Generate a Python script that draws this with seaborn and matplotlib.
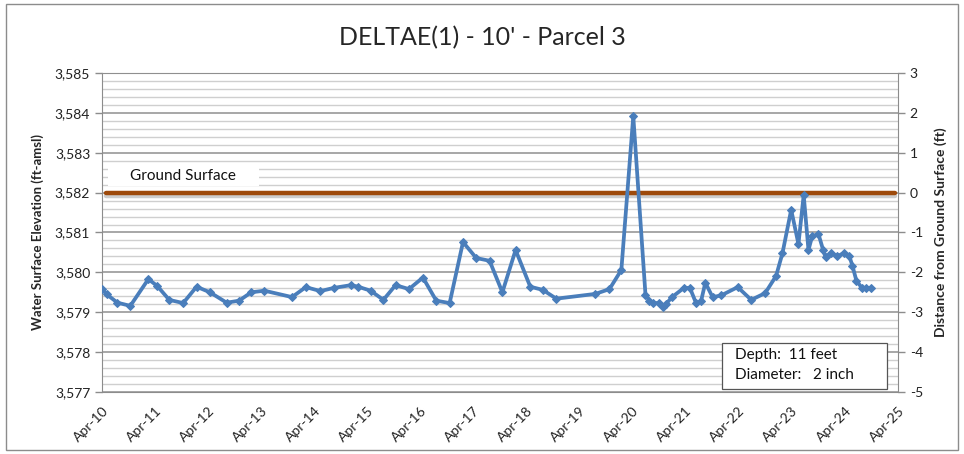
import pandas as pd
import matplotlib.pyplot as plt
import matplotlib.dates as mdates
import matplotlib.patheffects as pe
from matplotlib.ticker import MultipleLocator, FuncFormatter
from matplotlib.patches import Rectangle
import seaborn as sns

dates = ["2010-04-03", "2010-05-03", "2010-07-16", "2010-10-13", "2011-02-14", "2011-04-16",
         "2011-07-08", "2011-10-12", "2012-01-12", "2012-04-13", "2012-08-06", "2012-10-31",
         "2013-01-22", "2013-04-23", "2013-10-30", "2014-02-02", "2014-05-14", "2014-08-13",
         "2014-12-11", "2015-01-28", "2015-04-24", "2015-07-21", "2015-10-13", "2016-01-13",
         "2016-04-18", "2016-07-19", "2016-10-19", "2017-01-19", "2017-04-20", "2017-07-21",
         "2017-10-17", "2018-01-16", "2018-04-27", "2018-07-23", "2018-10-23", "2019-07-19",
         "2019-10-24", "2020-01-14", "2020-04-05", "2020-06-28", "2020-07-25", "2020-08-17",
         "2020-09-27", "2020-10-25", "2020-11-17", "2020-12-28", "2021-03-23", "2021-05-01",
         "2021-06-11", "2021-07-15", "2021-08-14", "2021-10-03", "2021-11-30", "2022-03-25",
         "2022-06-26", "2022-09-30", "2022-12-14", "2023-01-27", "2023-03-28", "2023-05-17",
         "2023-06-22", "2023-07-25", "2023-08-19", "2023-10-02", "2023-11-03", "2023-11-20",
         "2023-12-26", "2024-02-09", "2024-03-26", "2024-05-02", "2024-05-23", "2024-06-19",
         "2024-07-25", "2024-08-23", "2024-09-29"]
elevation = [3579.58, 3579.45, 3579.24, 3579.16, 3579.83, 3579.66,
             3579.31, 3579.23, 3579.64, 3579.50, 3579.24, 3579.29,
             3579.50, 3579.54, 3579.38, 3579.63, 3579.53, 3579.61,
             3579.68, 3579.64, 3579.54, 3579.31, 3579.68, 3579.58,
             3579.87, 3579.29, 3579.23, 3580.76, 3580.36, 3580.29,
             3579.50, 3580.56, 3579.64, 3579.56, 3579.34, 3579.46,
             3579.58, 3580.06, 3583.92, 3579.44, 3579.29, 3579.23,
             3579.23, 3579.14, 3579.21, 3579.38, 3579.62, 3579.60,
             3579.23, 3579.27, 3579.74, 3579.38, 3579.42, 3579.63,
             3579.31, 3579.48, 3579.91, 3580.48, 3581.57, 3580.71,
             3581.94, 3580.56, 3580.90, 3580.96, 3580.56, 3580.38,
             3580.48, 3580.41, 3580.48, 3580.40, 3580.16, 3579.79,
             3579.62, 3579.60, 3579.60]
ground_surface = 3582
info_lines = ["Depth:  11 feet", "Diameter:   2 inch"]

sns.set_style("white")
plt.rcParams['font.family'] = ['Lato', 'DejaVu Sans']
plt.rcParams['axes.unicode_minus'] = False

df = pd.DataFrame({"Date": pd.to_datetime(dates), "Elevation": elevation})

fig = plt.figure(figsize=(9.64, 4.54), dpi=100)
fig.patches.append(Rectangle((0.006, 0.008), 0.988, 0.984, transform=fig.transFigure,
                             fill=False, edgecolor='#8c8c8c', lw=1))
ax = fig.add_axes([0.1058, 0.1366, 0.8257, 0.7026])

# ground surface line with a soft shadow
ax.axhline(ground_surface, xmin=0.005, xmax=0.996, color='#9E4A0B', lw=3.2, zorder=3,
           path_effects=[pe.SimpleLineShadow(offset=(0, -2.5), shadow_color='#909090', alpha=0.45),
                         pe.Normal()])

sns.lineplot(data=df, x="Date", y="Elevation", ax=ax, color='#4A7EBB', lw=2.7,
             marker='D', markersize=4.5, markeredgecolor='#4A7EBB', zorder=4)

ax.set_xlim(pd.Timestamp("2010-04-01"), pd.Timestamp("2025-04-01"))
ax.set_ylim(3577, 3585)
ax.yaxis.set_major_locator(MultipleLocator(1))
ax.yaxis.set_minor_locator(MultipleLocator(0.2))
ax.yaxis.set_major_formatter(FuncFormatter(lambda v, p: f"{v:,.0f}"))
ax.grid(which='major', axis='y', color='#8f8f8f', lw=1.1, zorder=0)
ax.grid(which='minor', axis='y', color='#cfcfcf', lw=1.0, zorder=0)
ax.grid(which='major', axis='x', visible=False)
ax.set_axisbelow(True)

ax.xaxis.set_major_locator(mdates.YearLocator(1, month=4, day=1))
ax.xaxis.set_major_formatter(mdates.DateFormatter('%b-%y'))
for lbl in ax.get_xticklabels():
    lbl.set_rotation(45)
    lbl.set_ha('right')
    lbl.set_rotation_mode('anchor')

ax.tick_params(axis='both', which='major', direction='out', length=5, width=1,
               color='#8c8c8c', labelsize=10, labelcolor='#222222')
ax.tick_params(axis='y', which='minor', length=0)
ax.tick_params(axis='x', pad=4)
for s in ['left', 'right', 'bottom']:
    ax.spines[s].set_color('#8c8c8c')
ax.spines['top'].set_color('#8f8f8f')

ax.set_xlabel("")
ax.set_ylabel("Water Surface Elevation (ft-amsl)", fontsize=9.5, fontweight='bold', labelpad=8)

ax2 = ax.twinx()
ax2.set_ylim(3577 - ground_surface, 3585 - ground_surface)
ax2.yaxis.set_major_locator(MultipleLocator(1))
ax2.tick_params(axis='y', direction='out', length=5, width=1, color='#8c8c8c',
                labelsize=10, labelcolor='#222222')
ax2.grid(False)
for s in ax2.spines.values():
    s.set_visible(False)
ax2.set_ylabel("Distance from Ground Surface (ft)", fontsize=10, fontweight='bold', labelpad=8)

fig.text(0.5, 1 - 38 / 454, "DELTAE(1) - 10' - Parcel 3", ha='center', va='center', fontsize=18)

# label above the ground surface line
ax.add_patch(Rectangle((0.0075, 3582.17), 0.19, 0.47, transform=ax.get_yaxis_transform(),
                       facecolor='white', edgecolor='none', zorder=5))
ax.text(0.102, 3582.41, "Ground Surface", transform=ax.get_yaxis_transform(),
        ha='center', va='center', fontsize=11, color='#111111', zorder=6)

# well info box
ax.add_patch(Rectangle((0.779, 0.0094), 0.207, 0.145, transform=ax.transAxes,
                       facecolor='white', edgecolor='#555555', lw=0.9, zorder=6))
ax.text(0.795, 0.116, info_lines[0], transform=ax.transAxes, ha='left', va='center',
        fontsize=11, color='#111111', zorder=7)
ax.text(0.795, 0.053, info_lines[1], transform=ax.transAxes, ha='left', va='center',
        fontsize=11, color='#111111', zorder=7)

fig.savefig("out.png", dpi=100)
